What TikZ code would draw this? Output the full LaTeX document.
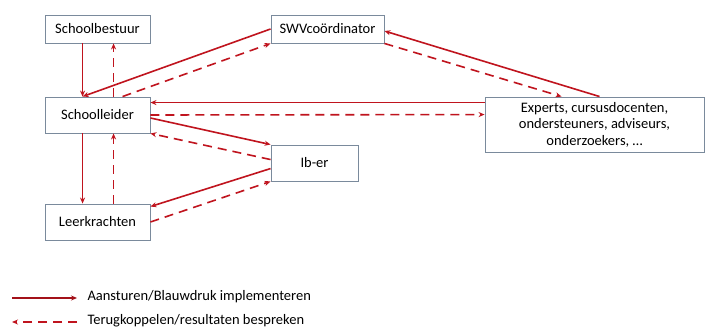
\documentclass[tikz,border=0pt]{standalone}
\usepackage{fontspec}
\setmainfont{Carlito}
\usetikzlibrary{arrows.meta}
\definecolor{arr}{HTML}{C0141E}
\definecolor{boxline}{HTML}{7A8A9C}
\begin{document}
\begin{tikzpicture}[x=1pt,y=-1pt,
  box/.style={draw=boxline,line width=0.9pt,fill=white,inner sep=0pt,font=\fontsize{14.5}{16.5}\selectfont,align=center},
  sol/.style={draw=arr,line width=1.6pt,-{Stealth[length=6pt,width=5pt]}},
  dsh/.style={draw=arr,line width=1.6pt,dash pattern=on 9pt off 6pt,-{Stealth[length=6pt,width=5pt]}},
  legtext/.style={anchor=west,font=\fontsize{14.5}{16.5}\selectfont}]
\useasboundingbox (0,0) rectangle (705,329);
\fill[white] (0,0) rectangle (705,329);
\node[box,minimum width=105pt,minimum height=28pt] (sb) at (97.5,29) {Schoolbestuur};
\node[box,minimum width=113pt,minimum height=28pt] (swv) at (327.5,29) {SWVcoördinator};
\node[box,minimum width=105pt,minimum height=36pt] (sl) at (97.5,115) {Schoolleider};
\node[box,minimum width=87pt,minimum height=36pt] (ib) at (314.5,163) {Ib-er};
\node[box,minimum width=105pt,minimum height=36pt] (lk) at (97.5,222) {Leerkrachten};
\node[box,minimum width=219pt,minimum height=55pt] (ex) at (594.5,124.5) {Experts, cursusdocenten,\\ondersteuners, adviseurs,\\onderzoekers, \dots};
% connectors
\draw[sol] ([xshift=38pt]sb.south west) -- ([xshift=38pt]sl.north west);
\draw[dsh] ([xshift=69pt]sl.north west) -- ([xshift=69pt]sb.south west);
\draw[sol] (swv.west) -- ([xshift=38pt]sl.north west);
\draw[dsh] ([xshift=78pt]sl.north west) -- (swv.south west);
\draw[sol] ([yshift=-6pt]ex.north west) -- ([yshift=-6pt]sl.north east);
\draw[dsh] (sl.east) -- ([yshift=-18pt]ex.north west);
\draw[sol] ([xshift=115pt]ex.north west) -- ([yshift=-2pt]swv.east);
\draw[dsh] (swv.south east) -- ([xshift=77pt]ex.north west);
\draw[sol] ([yshift=-3pt]sl.east) -- (ib.north west);
\draw[dsh] ([yshift=-15pt]ib.north west) -- (sl.south east);
\draw[sol] ([xshift=38pt]sl.south west) -- ([xshift=38pt]lk.north west);
\draw[dsh] ([xshift=69pt]lk.north west) -- ([xshift=69pt]sl.south west);
\draw[sol] ([yshift=-24pt]ib.north west) -- ([yshift=-3pt]lk.north east);
\draw[dsh] (lk.east) -- (ib.south west);
% legend
\coordinate (la) at (12,298);
\coordinate (lb) at (77,298);
\coordinate (lc) at (77,322);
\coordinate (ld) at (12,322);
\draw[sol,draw=arr!85!black] (la) -- (lb);
\draw[dsh] (lc) -- (ld);
\node[legtext] (t1) at (84,297) {Aansturen/Blauwdruk implementeren};
\node[legtext] (t2) at (84,321) {Terugkoppelen/resultaten bespreken};
\end{tikzpicture}
\end{document}
